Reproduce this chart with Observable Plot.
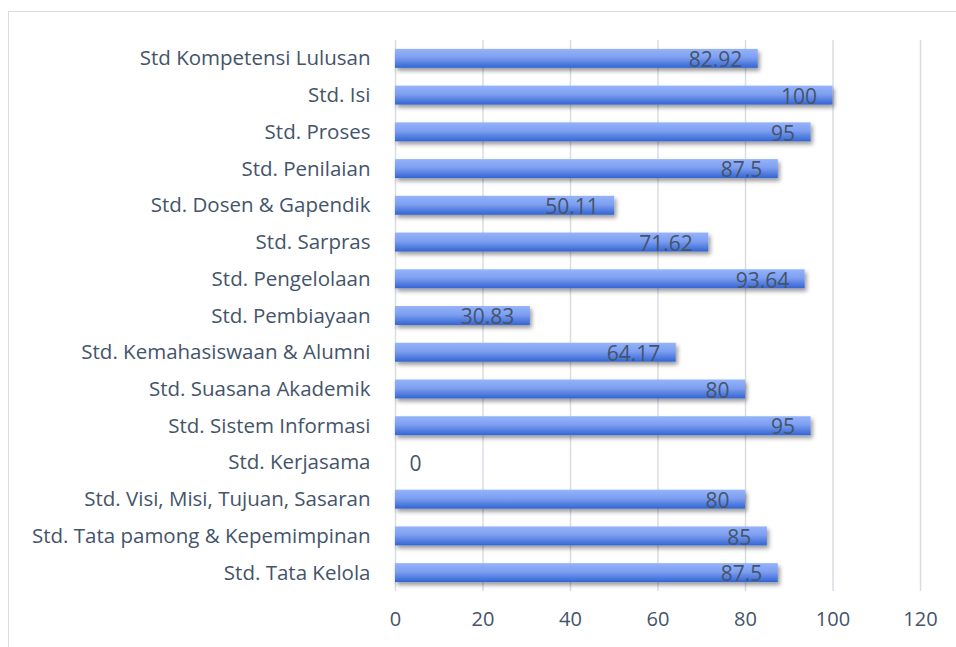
<!DOCTYPE html>
<html>
<head>
<meta charset="utf-8">
<script src="https://cdn.jsdelivr.net/npm/d3@7"></script>
<script src="https://cdn.jsdelivr.net/npm/@observablehq/plot@0.6"></script>
<style>
  html, body { margin: 0; padding: 0; background: #fff; }
  #wrap { position: relative; width: 956px; height: 647px; overflow: hidden; }
  #frame { position: absolute; left: 8px; top: 11px; width: 960px; height: 650px;
           border-left: 1.5px solid #D9DDE3; border-top: 1.5px solid #D9DDE3; box-sizing: border-box; }
  #chart { position: absolute; left: 0; top: 0; }
</style>
</head>
<body>
<div id="wrap"><div id="frame"></div><div id="chart"></div></div>
<script>
const categories = [
  "Std Kompetensi Lulusan",
  "Std. Isi",
  "Std. Proses",
  "Std. Penilaian",
  "Std. Dosen & Gapendik",
  "Std. Sarpras",
  "Std. Pengelolaan",
  "Std. Pembiayaan",
  "Std. Kemahasiswaan & Alumni",
  "Std. Suasana Akademik",
  "Std. Sistem Informasi",
  "Std. Kerjasama",
  "Std. Visi, Misi, Tujuan, Sasaran",
  "Std. Tata pamong & Kepemimpinan",
  "Std. Tata Kelola"
];
const values = [82.92, 100, 95, 87.5, 50.11, 71.62, 93.64, 30.83, 64.17, 80, 95, 0, 80, 85, 87.5];
const xTicks = [0, 20, 40, 60, 80, 100, 120];

const data = categories.map((c, i) => ({category: c, value: values[i]}));

const plot = Plot.plot({
  width: 956,
  height: 647,
  marginLeft: 395,
  marginRight: 36,
  marginTop: 40,
  marginBottom: 56,
  style: {fontFamily: "'Open Sans', sans-serif", background: "transparent", overflow: "visible"},
  x: {domain: [0, 120], ticks: xTicks, label: null},
  y: {domain: categories, label: null, padding: 0, round: false},
  marks: [
    Plot.ruleX(xTicks, {stroke: "#D9DDE3", strokeWidth: 1.5, strokeOpacity: 1}),
    Plot.barX(data, {x: "value", y: "category", fill: "url(#barGrad)", insetTop: 8.9, insetBottom: 8.9,
      filter: d => d.value > 0}),
    Plot.text(data.filter(d => d.value > 0), {x: "value", y: "category", text: d => String(d.value),
      textAnchor: "end", dx: -16, dy: 1.5, fill: "#44546A", fontSize: 21}),
    Plot.text(data.filter(d => d.value === 0), {x: "value", y: "category", text: d => String(d.value),
      textAnchor: "start", dx: 14, dy: 1.5, fill: "#44546A", fontSize: 21}),
    Plot.axisX({ticks: xTicks, tickSize: 0, tickPadding: 20, fontSize: 20, color: "#44546A", label: null}),
    Plot.axisY({tickSize: 0, tickPadding: 25, fontSize: 20.5, color: "#44546A", label: null})
  ]
});

const svg = d3.select(plot);
const defs = svg.insert("defs", ":first-child");
const g = defs.append("linearGradient").attr("id", "barGrad").attr("x1", 0).attr("y1", 0).attr("x2", 0).attr("y2", 1);
g.append("stop").attr("offset", "0%").attr("stop-color", "#94B3FB");
g.append("stop").attr("offset", "45%").attr("stop-color", "#7E9FF0");
g.append("stop").attr("offset", "100%").attr("stop-color", "#3265D3");
const f = defs.append("filter").attr("id", "shadow").attr("x", "-5%").attr("y", "-50%").attr("width", "115%").attr("height", "220%");
f.append("feDropShadow").attr("dx", 2).attr("dy", 3).attr("stdDeviation", 2.2).attr("flood-color", "#000").attr("flood-opacity", 0.4);
svg.selectAll("g[aria-label='bar'] rect").attr("filter", "url(#shadow)");

document.getElementById("chart").appendChild(plot);
</script>
</body>
</html>
